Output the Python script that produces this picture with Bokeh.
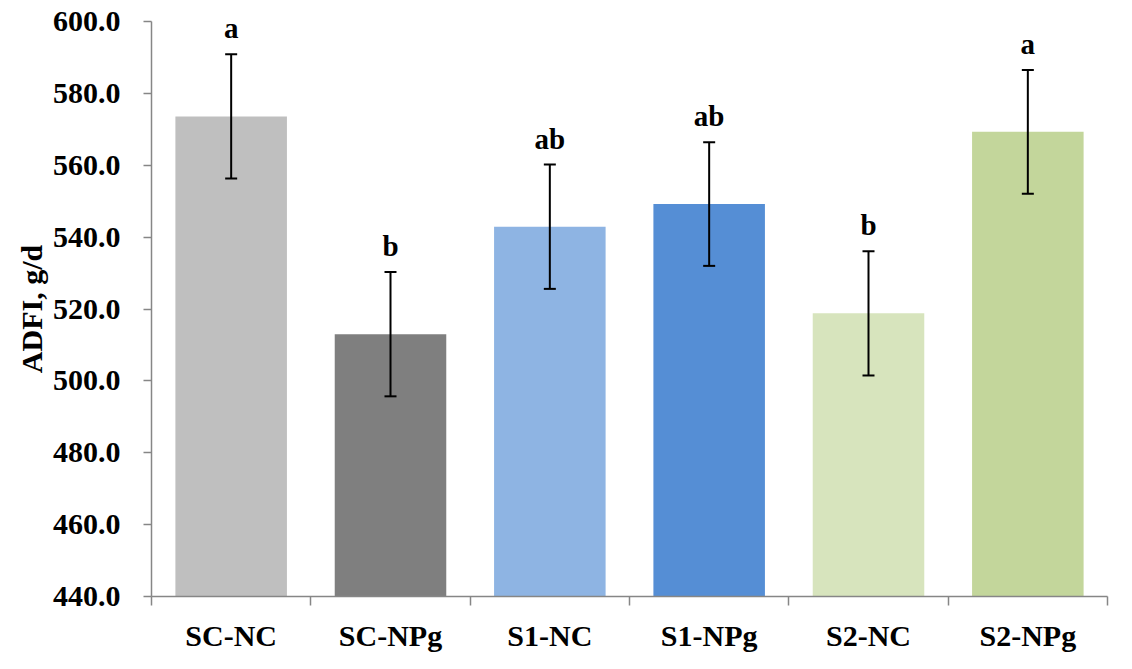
from bokeh.plotting import figure
from bokeh.models import ColumnDataSource, FixedTicker, NumeralTickFormatter, Range1d, Whisker, TeeHead
from bokeh.core.properties import value
from bokeh.embed import file_html
from bokeh.resources import INLINE

categories = ["SC-NC", "SC-NPg", "S1-NC", "S1-NPg", "S2-NC", "S2-NPg"]
means = [573.6, 513.0, 542.9, 549.2, 518.8, 569.3]
errors = [17.3, 17.3, 17.3, 17.2, 17.3, 17.2]
letters = ["a", "b", "ab", "ab", "b", "a"]
colors = ["#bfbfbf", "#7f7f7f", "#8eb4e3", "#558ed5", "#d7e4bd", "#c3d69b"]
y_ticks = [440, 460, 480, 500, 520, 540, 560, 580, 600]

xs = [i + 0.5 for i in range(len(categories))]
src = ColumnDataSource(dict(
    x=xs, top=means, color=colors,
    upper=[m + e for m, e in zip(means, errors)],
    lower=[m - e for m, e in zip(means, errors)],
    letter=letters,
))

FONT = "Liberation Serif"
AXIS_COLOR = "#868686"

p = figure(width=1124, height=661, output_backend="svg", toolbar_location=None,
           x_range=Range1d(0, len(categories)), y_range=Range1d(440, 600),
           min_border_left=151, min_border_right=17, min_border_top=21, min_border_bottom=65)
p.outline_line_color = None
p.xgrid.visible = False
p.ygrid.visible = False

p.vbar(x="x", top="top", bottom=440, width=0.7, fill_color="color", line_color=None, source=src)

w = Whisker(base="x", upper="upper", lower="lower", source=src, line_color="black", line_width=2,
            upper_head=TeeHead(size=12, line_color="black", line_width=2),
            lower_head=TeeHead(size=12, line_color="black", line_width=2))
w.level = "overlay"
p.add_layout(w)

p.text(x="x", y="upper", text="letter", source=src, text_align="center", text_baseline="bottom",
       y_offset=-10, text_font=value(FONT), text_font_style="bold", text_font_size="29px",
       text_color="black")

# y axis
p.yaxis.ticker = FixedTicker(ticks=y_ticks)
p.yaxis.formatter = NumeralTickFormatter(format="0.0")
p.yaxis.axis_line_color = AXIS_COLOR
p.yaxis.axis_line_width = 1.5
p.yaxis.major_tick_line_color = AXIS_COLOR
p.yaxis.major_tick_line_width = 1.5
p.yaxis.major_tick_out = 8
p.yaxis.major_tick_in = 0
p.yaxis.minor_tick_line_color = None
p.yaxis.major_label_text_font = FONT
p.yaxis.major_label_text_font_style = "bold"
p.yaxis.major_label_text_font_size = "30px"
p.yaxis.major_label_text_color = "black"
p.yaxis.major_label_standoff = 23
p.yaxis.axis_label = "ADFI, g/d"
p.yaxis.axis_label_text_font = FONT
p.yaxis.axis_label_text_font_style = "bold"
p.yaxis.axis_label_text_font_size = "30px"
p.yaxis.axis_label_text_color = "black"
p.yaxis.axis_label_standoff = 2

# x axis
p.xaxis.ticker = FixedTicker(ticks=xs, minor_ticks=list(range(len(categories) + 1)))
p.xaxis.major_label_overrides = {x: c for x, c in zip(xs, categories)}
p.xaxis.axis_line_color = AXIS_COLOR
p.xaxis.axis_line_width = 1.5
p.xaxis.major_tick_line_color = None
p.xaxis.minor_tick_line_color = AXIS_COLOR
p.xaxis.minor_tick_line_width = 1.5
p.xaxis.minor_tick_out = 9
p.xaxis.minor_tick_in = 0
p.xaxis.major_label_text_font = FONT
p.xaxis.major_label_text_font_style = "bold"
p.xaxis.major_label_text_font_size = "30px"
p.xaxis.major_label_text_color = "black"
p.xaxis.major_label_standoff = 13

open("out.html", "w").write(file_html(p, INLINE))
